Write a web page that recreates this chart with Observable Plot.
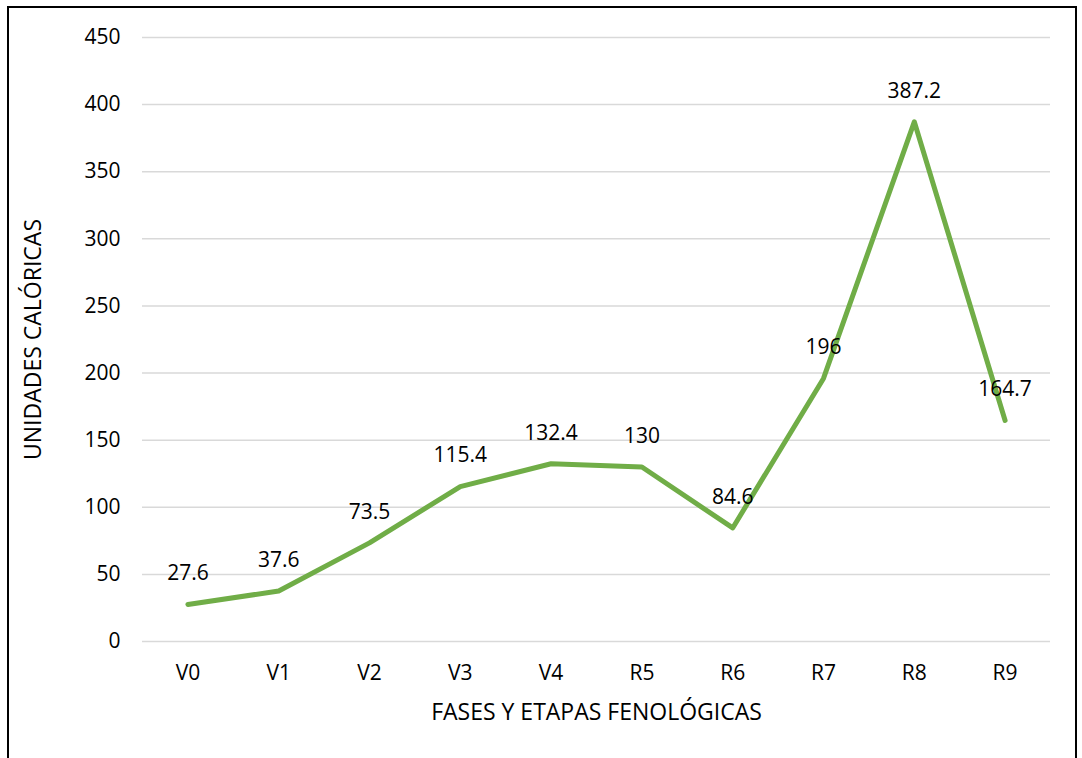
<!DOCTYPE html>
<html><head><meta charset="utf-8">
<script src="https://cdn.jsdelivr.net/npm/d3@7"></script>
<script src="https://cdn.jsdelivr.net/npm/@observablehq/plot@0.6"></script>
<style>
html,body{margin:0;padding:0;background:#fff;overflow:hidden;}
#wrap{position:relative;width:1082px;height:758px;}
#border{position:absolute;left:7px;top:6px;width:1070px;height:800px;border:2px solid #000;box-sizing:border-box;}
#chart{position:absolute;left:0;top:0;}
</style></head><body>
<div id="wrap"><div id="border"></div><div id="chart"></div></div>
<script>
const stages = ["V0","V1","V2","V3","V4","R5","R6","R7","R8","R9"];
const values = [27.6,37.6,73.5,115.4,132.4,130,84.6,196,387.2,164.7];
const labels = ["27.6","37.6","73.5","115.4","132.4","130","84.6","196","387.2","164.7"];
const yTicks = [0,50,100,150,200,250,300,350,400,450];
const data = stages.map((s,i)=>({stage:s,value:values[i],label:labels[i]}));
const font = "'Open Sans', sans-serif";
const chart = Plot.plot({
  width:1082, height:758,
  marginLeft:142, marginRight:32, marginTop:37, marginBottom:117,
  style:{fontFamily:font, fontSize:"21px", color:"#000", background:"transparent", overflow:"visible"},
  x:{type:"point", domain:stages, padding:0.5, round:false, label:null},
  y:{domain:[0,450], label:null},
  marks:[
    Plot.gridY(yTicks,{stroke:"#d9d9d9", strokeOpacity:1, strokeWidth:1.5}),
    Plot.axisY(yTicks,{tickSize:0, tickPadding:22, fontSize:21, label:null}),
    Plot.axisX({tickSize:0, tickPadding:24, fontSize:21, label:null}),
    Plot.lineY(data,{x:"stage", y:"value", stroke:"#70ad47", strokeWidth:5, strokeLinecap:"round", strokeLinejoin:"round"}),
    Plot.text(data,{x:"stage", y:"value", text:"label", dy:-31, fontSize:21, fill:"#000"}),
    Plot.text(["FASES Y ETAPAS FENOLÓGICAS"],{frameAnchor:"bottom", lineAnchor:"middle", textAnchor:"middle", dy:71, fontSize:23, fill:"#000"}),
    Plot.text(["UNIDADES CALÓRICAS"],{frameAnchor:"left", lineAnchor:"middle", textAnchor:"middle", dx:-109, rotate:-90, fontSize:23, fill:"#000"})
  ]
});
document.getElementById("chart").appendChild(chart);
</script>
</body></html>
